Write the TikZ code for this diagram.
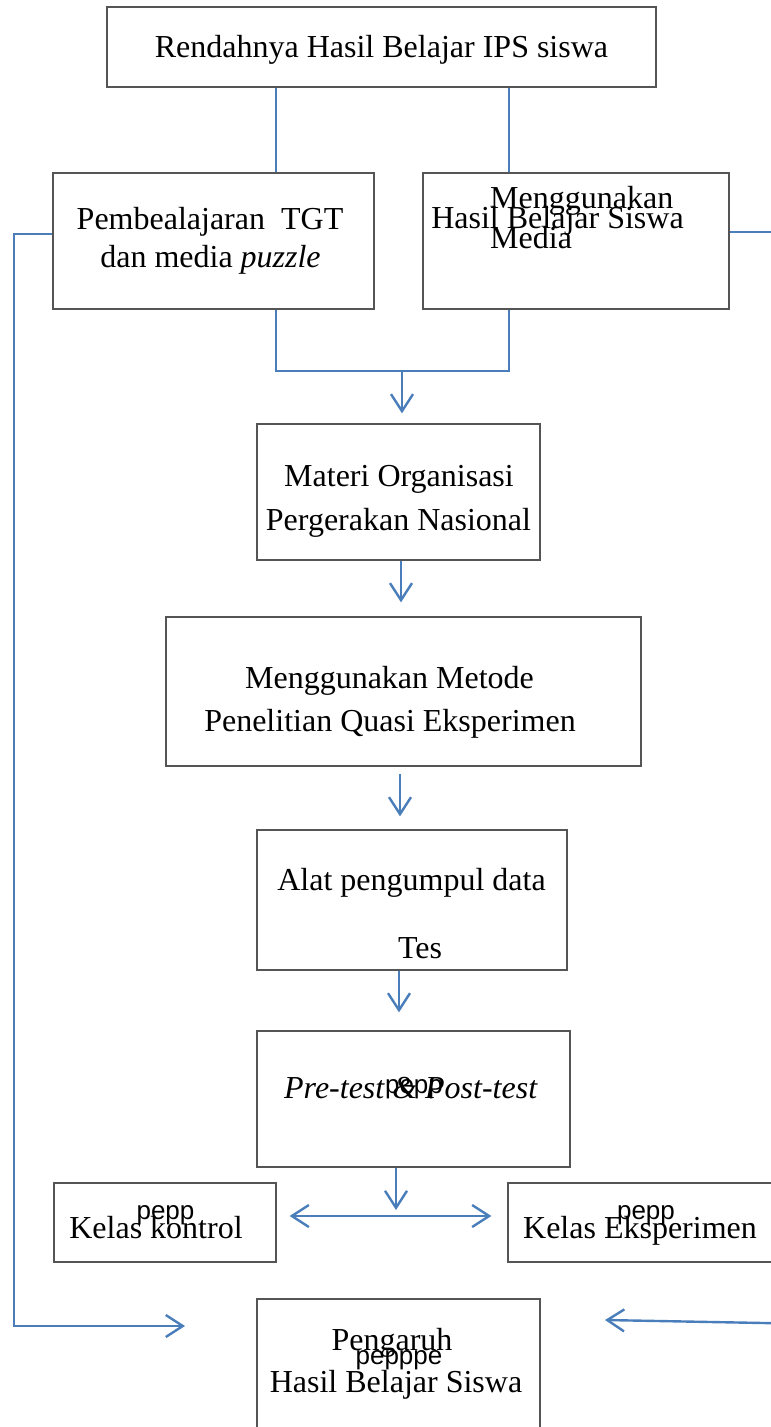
\documentclass[tikz,border=0pt]{standalone}
\usepackage{fontspec}
\setmainfont{Liberation Serif}
\newfontfamily\pepfont{Liberation Sans}
\usetikzlibrary{arrows.meta}
\definecolor{conblue}{HTML}{4A7EBB}
\definecolor{boxgray}{HTML}{555555}
\begin{document}
\begin{tikzpicture}[x=1pt,y=-1pt,
  box/.style={draw=boxgray,line width=1.3pt,inner sep=0pt},
  txt/.style={anchor=base,inner sep=0pt,font=\fontsize{32}{38}\selectfont},
  pep/.style={anchor=base,inner sep=0pt,font=\pepfont\fontsize{26}{30}\selectfont},
  conn/.style={draw=conblue,line width=2.4pt},
  arr/.style={conn,-{Straight Barb[length=17pt,width=22pt]}},
  darr/.style={conn,{Straight Barb[length=17pt,width=22pt]}-{Straight Barb[length=17pt,width=22pt]}}]
\useasboundingbox (0,0) rectangle (771,1427);
% boxes
\node[box,minimum width=549pt,minimum height=80pt] (top) at (381.5,47) {};
\node[box,minimum width=321pt,minimum height=136pt] (pbl) at (213.5,241) {};
\node[box,minimum width=306pt,minimum height=136pt] (media) at (576,241) {};
\node[box,minimum width=283pt,minimum height=136pt] (materi) at (398.5,492) {};
\node[box,minimum width=475pt,minimum height=149pt] (metode) at (403.5,691.5) {};
\node[box,minimum width=310pt,minimum height=140pt] (alat) at (412,900) {};
\node[box,minimum width=313pt,minimum height=136pt] (prepost) at (413.5,1099) {};
\node[box,minimum width=222pt,minimum height=79pt] (kontrol) at (165,1222.5) {};
\node[box,minimum width=282pt,minimum height=79pt] (eksp) at (649,1222.5) {};
\node[box,minimum width=283pt,minimum height=141pt] (pengaruh) at (398.5,1369.5) {};
% texts
\node[txt] (t1) at (381.5,57) {Rendahnya Hasil Belajar IPS siswa};
\node[txt] (t2a) at (210,229) {Pembealajaran\ \ TGT};
\node[txt] (t2b) at (210.5,267) {dan media \textit{puzzle}};
\node[txt,anchor=base west] (t3a) at (490,208) {Menggunakan};
\node[txt] (t3b) at (557.5,228) {Hasil Belajar Siswa};
\node[txt,anchor=base west] (t3c) at (490,248) {Media};
\node[txt] (t4a) at (399,486) {Materi Organisasi};
\node[txt] (t4b) at (398.5,530) {Pergerakan Nasional};
\node[txt] (t5a) at (389.5,688) {Menggunakan Metode};
\node[txt] (t5b) at (390,731) {Penelitian Quasi Eksperimen};
\node[txt] (t6a) at (411.5,890) {Alat pengumpul data};
\node[txt] (t6b) at (420,958) {Tes};
\node[txt] (t7) at (411,1098) {\textit{Pre-test \& Post-test}};
\node[pep] (p7) at (414,1093) {pepp};
\node[txt] (t8) at (156,1238) {Kelas kontrol};
\node[pep] (p8) at (165.5,1219) {pepp};
\node[txt] (t9) at (640,1238) {Kelas Eksperimen};
\node[pep] (p9) at (646,1219) {pepp};
\node[txt] (t10a) at (392,1350) {Pengaruh};
\node[pep] (p10) at (399,1364) {pepppe};
\node[txt] (t10b) at (396,1392) {Hasil Belajar Siswa};
% helper coordinates
\coordinate (xL) at (276,0);
\coordinate (xR) at (509,0);
\coordinate (xM) at (402,0);
\coordinate (yJ) at (0,371);
\coordinate (yLeft) at (0,234);
\coordinate (yRight) at (0,232);
\coordinate (farL) at (14,234);
\coordinate (farLb) at (14,1326);
\coordinate (endL) at (185,1326);
\coordinate (farR) at (790,232);
\coordinate (farRb) at (790,1323.5);
\coordinate (endR) at (605,1320);
\coordinate (split) at (396,1216);
\coordinate (xA) at (401,0);
\coordinate (xB) at (400,0);
\coordinate (xC) at (399,0);
% connectors
\draw[conn] (top.south -| xL) -- (pbl.north -| xL);
\draw[conn] (top.south -| xR) -- (media.north -| xR);
\draw[conn] (media.east |- yRight) -- (farR) -- (farRb);
\draw[arr] (farRb) -- (endR);
\draw[arr] (pbl.west |- yLeft) -- (farL) -- (farLb) -- (endL);
\draw[conn] (pbl.south -| xL) -- (xL |- yJ) -- (xR |- yJ) -- (media.south -| xR);
\draw[arr,shorten >=10pt] (xM |- yJ) -- (materi.north -| xM);
\draw[arr,shorten >=14pt] (materi.south -| xA) -- (metode.north -| xA);
\draw[arr,shorten <=7pt,shorten >=13pt] (metode.south -| xB) -- (alat.north -| xB);
\draw[arr,shorten >=18pt] (alat.south -| xC) -- (prepost.north -| xC);
\draw[arr,shorten >=6pt] (prepost.south -| split) -- (split);
\draw[darr,shorten <=13pt,shorten >=16pt] (kontrol.east |- split) -- (eksp.west |- split);
\end{tikzpicture}
\end{document}
